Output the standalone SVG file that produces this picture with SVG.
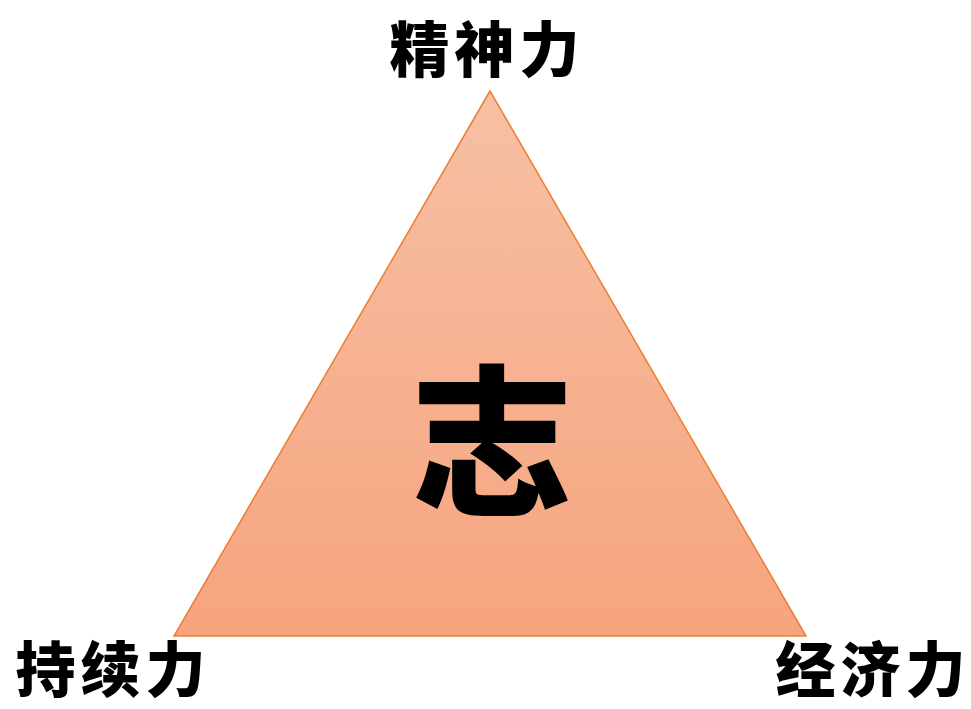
<svg xmlns="http://www.w3.org/2000/svg" width="971" height="709" viewBox="0 0 971 709">
  <defs>
    <linearGradient id="tri" x1="0" y1="0" x2="0" y2="1">
      <stop offset="0" stop-color="#F7C0A4"/>
      <stop offset="1" stop-color="#F6A47E"/>
    </linearGradient>
    <style>
      .lbl { font-family: "Noto Sans CJK SC", "Noto Sans CJK JP", sans-serif; font-weight: 900; fill: #000; text-anchor: middle; }
    </style>
  </defs>
  <rect width="971" height="709" fill="#fff"/>
  <g id="triangle">
    <polygon points="490,91 174,636 806,636" fill="url(#tri)" stroke="#ED7D31" stroke-width="1.5"/>
    <text class="lbl" x="492" y="503" font-size="162">志</text>
  </g>
  <g id="node-top">
    <text class="lbl" x="487" y="72" font-size="60" letter-spacing="5">精神力</text>
  </g>
  <g id="node-left">
    <text class="lbl" x="113" y="692" font-size="60" letter-spacing="5">持续力</text>
  </g>
  <g id="node-right">
    <text class="lbl" x="873" y="692" font-size="60" letter-spacing="5">经济力</text>
  </g>
  <g id="connectors"></g>
</svg>
